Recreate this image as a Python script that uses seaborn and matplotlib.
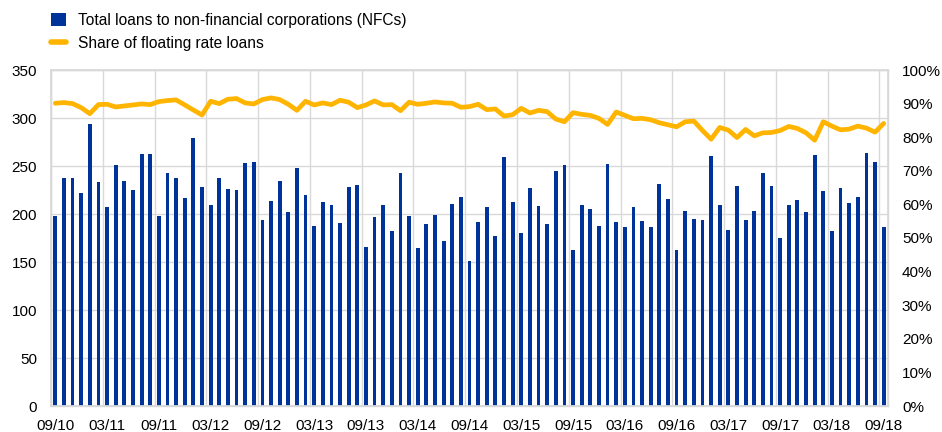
import numpy as np
import pandas as pd
import matplotlib
matplotlib.use('Agg')
import matplotlib.pyplot as plt
from matplotlib.patches import Patch
from matplotlib.lines import Line2D
from matplotlib.ticker import PercentFormatter, MultipleLocator, FixedLocator
import seaborn as sns

# monthly data, 09/2010 .. 09/2018
loans = [198, 237, 238, 222, 294, 233, 207, 251, 234, 225, 262, 262,
         198, 243, 238, 217, 279, 228, 209, 237, 226, 225, 253, 254,
         194, 214, 234, 202, 248, 220, 187, 213, 209, 191, 228, 230,
         166, 197, 209, 182, 243, 198, 165, 190, 199, 172, 210, 218,
         151, 192, 207, 177, 259, 212, 180, 227, 208, 190, 245, 251,
         163, 209, 205, 187, 252, 192, 186, 207, 193, 186, 231, 216,
         163, 203, 195, 194, 260, 209, 183, 229, 194, 203, 243, 229,
         175, 209, 215, 202, 261, 224, 182, 227, 211, 218, 264, 254,
         186]

floating_share = [90.1, 90.3, 90.0, 88.8, 87.0, 89.7, 89.8, 89.0, 89.3, 89.6, 89.9, 89.7,
                  90.6, 90.9, 91.1, 89.6, 88.1, 86.6, 90.7, 90.0, 91.3, 91.5, 90.2, 89.9,
                  91.2, 91.7, 91.2, 89.8, 88.0, 90.7, 89.6, 90.2, 89.7, 91.0, 90.4, 88.8,
                  89.6, 90.8, 89.6, 89.7, 87.9, 90.4, 89.8, 90.1, 90.5, 90.2, 90.1, 88.9,
                  89.1, 89.8, 88.2, 88.4, 86.3, 86.7, 88.6, 87.2, 88.0, 87.6, 85.4, 84.6,
                  87.3, 86.8, 86.5, 85.6, 83.8, 87.5, 86.5, 85.5, 85.6, 85.2, 84.3, 83.7,
                  83.1, 84.6, 84.8, 82.0, 79.4, 82.9, 82.1, 79.9, 82.3, 80.4, 81.3, 81.4,
                  82.0, 83.2, 82.6, 81.3, 79.1, 84.6, 83.3, 82.2, 82.4, 83.3, 82.7, 81.5,
                  84.1]

tick_labels = ['09/10', '03/11', '09/11', '03/12', '09/12', '03/13', '09/13', '03/14',
               '09/14', '03/15', '09/15', '03/16', '09/16', '03/17', '09/17', '03/18',
               '09/18']

BLUE = '#003399'
YELLOW = '#FFB400'
GRID = '#d9d9d9'

sns.set_theme(style='white')
plt.rcParams['font.family'] = ['Liberation Sans', 'DejaVu Sans']
plt.rcParams['text.color'] = 'black'
plt.rcParams['xtick.color'] = 'black'
plt.rcParams['ytick.color'] = 'black'

df = pd.DataFrame({'month': np.arange(len(loans)), 'loans': loans,
                   'share': np.array(floating_share) / 100})

fig = plt.figure(figsize=(9.42, 4.32), dpi=100)
ax = fig.add_axes([51/942, 26/432, 837/942, 336/432])

sns.barplot(data=df, x='month', y='loans', color=BLUE, width=0.44,
            saturation=1, linewidth=0, ax=ax, zorder=2)
ax.set_xlim(-0.5, len(loans) - 0.5)
ax.set_ylim(0, 350)
ax.yaxis.set_major_locator(MultipleLocator(50))
ax.set_xticks(np.arange(0, len(loans), 6))
ax.set_xticklabels(tick_labels)
ax.xaxis.set_minor_locator(FixedLocator(np.arange(-0.5, len(loans), 6)))
ax.grid(True, axis='y', color=GRID, lw=1, zorder=0)
ax.grid(True, axis='x', which='minor', color=GRID, lw=1, zorder=0)
ax.set_axisbelow(True)
ax.tick_params(axis='both', which='both', length=0, labelsize=11)
ax.tick_params(axis='y', pad=10)
ax.tick_params(axis='x', pad=9)
ax.set_xlabel('')
ax.set_ylabel('')
for s in ax.spines.values():
    s.set_color(GRID)
    s.set_linewidth(1)

ax2 = ax.twinx()
sns.lineplot(data=df, x='month', y='share', color=YELLOW, lw=3.4, ax=ax2)
ax2.set_ylim(0, 1)
ax2.yaxis.set_major_locator(MultipleLocator(0.1))
ax2.yaxis.set_major_formatter(PercentFormatter(1.0, decimals=0))
ax2.tick_params(axis='y', length=0, labelsize=11, pad=10)
ax2.set_ylabel('')
for s in ax2.spines.values():
    s.set_color(GRID)

handles = [Patch(facecolor=BLUE, edgecolor='none'),
           Line2D([0], [0], color=YELLOW, lw=4)]
labels = ['Total loans to non-financial corporations (NFCs)', 'Share of floating rate loans']
fig.legend(handles, labels, loc='upper left', bbox_to_anchor=(51/942, 1 - 13/432),
           frameon=False, fontsize=11.2, handlelength=0.95, handleheight=0.95,
           handletextpad=0.8, labelspacing=0.5, borderpad=0, borderaxespad=0)

fig.savefig('out.png', dpi=100)
